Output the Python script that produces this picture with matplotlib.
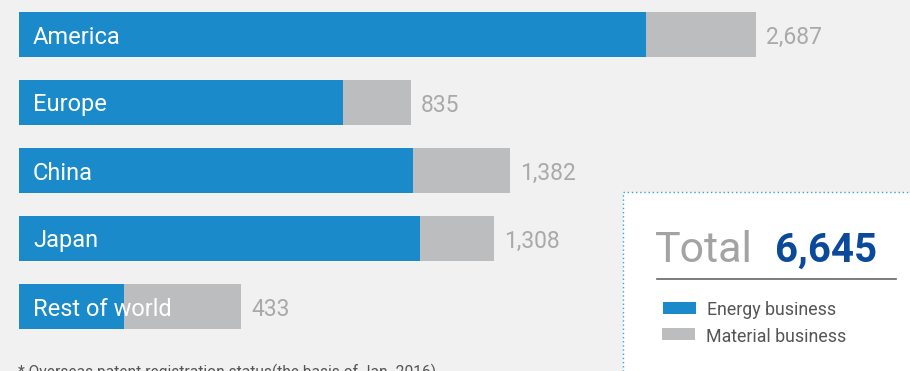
import matplotlib
matplotlib.use("Agg")
import matplotlib.pyplot as plt
from matplotlib.patches import Rectangle

# Data (bar lengths as drawn in the reference, not to a linear scale)
regions = ["America", "Europe", "China", "Japan", "Rest of world"]
energy_len = [627, 324, 394, 401, 105]
material_len = [110, 68, 97, 74, 117]
totals = ["2,687", "835", "1,382", "1,308", "433"]
total_all = "6,645"
legend_labels = ["Energy business", "Material business"]
footnote = "* Overseas patent registration status(the basis of Jan. 2016)"

plt.rcParams['font.family'] = ['Roboto', 'DejaVu Sans']

BLUE = "#1a8aca"
GRAY = "#bcbdbf"
BG = "#f1f1f1"

fig = plt.figure(figsize=(9.1, 3.71), dpi=100)
fig.patch.set_facecolor(BG)
ax = fig.add_axes([0, 0, 1, 1])
ax.set_xlim(0, 910)
ax.set_ylim(371, 0)
ax.axis("off")
ax.set_facecolor(BG)

# right-hand box
box = Rectangle((623, 192), 300, 200, facecolor="white", edgecolor="#3aa0e0",
                linestyle=(0, (1, 2)), linewidth=1.0, zorder=1)
ax.add_patch(box)

y_pos = [34.5 + 68 * i for i in range(len(regions))]
left = 19
ax.barh(y_pos, energy_len, left=left, height=45, color=BLUE, zorder=2)
ax.barh(y_pos, material_len, left=[left + e for e in energy_len], height=45,
        color=GRAY, zorder=2)

for y, name, e, m, t in zip(y_pos, regions, energy_len, material_len, totals):
    ax.text(33, y + 2.5, name, color="white", fontsize=17, va="center", ha="left", zorder=3)
    ax.text(left + e + m + 10, y + 2.5, t, color="#a9a9a9", fontsize=16.5,
            va="center", ha="left", zorder=3)

# Total block
ax.text(655, 251, "Total", color="#a3a3a3", fontsize=31,
        va="center", ha="left", zorder=3)
ax.text(775, 251, total_all, color="#0b4a9b", fontsize=29, fontweight="bold",
        va="center", ha="left", zorder=3)
ax.plot([657, 896], [279, 279], color="#666666", linewidth=1.2, zorder=3)

# legend
ax.add_patch(Rectangle((663, 302), 33, 11.5, facecolor=BLUE, zorder=3))
ax.add_patch(Rectangle((662, 328), 33, 12, facecolor=GRAY, zorder=3))
ax.text(707, 310, legend_labels[0], color="#555555", fontsize=12.8, va="center", ha="left", zorder=3)
ax.text(706, 337, legend_labels[1], color="#555555", fontsize=12.8, va="center", ha="left", zorder=3)

# footnote (cut off at bottom, as in the reference)
ax.text(18, 372, footnote, color="#555555", fontsize=11.2, va="center", ha="left", zorder=3)

fig.savefig("out.png", dpi=100, facecolor=BG)
